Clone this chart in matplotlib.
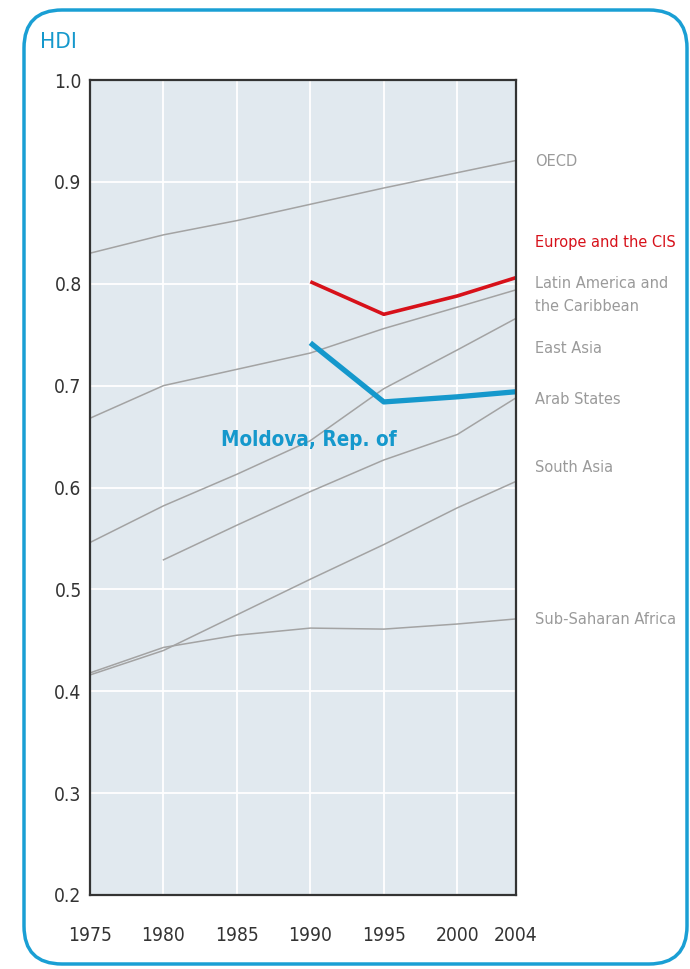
import matplotlib
matplotlib.use("Agg")
import matplotlib.pyplot as plt
from matplotlib.patches import FancyBboxPatch

# ---- data ----
years = [1975, 1980, 1985, 1990, 1995, 2000, 2004]

oecd = [0.830, 0.848, 0.862, 0.878, 0.894, 0.909, 0.921]
latam = [0.668, 0.700, 0.716, 0.732, 0.756, 0.777, 0.794]
east_asia = [0.546, 0.582, 0.613, 0.646, 0.697, 0.735, 0.766]
arab_years = [1980, 1985, 1990, 1995, 2000, 2004]
arab = [0.529, 0.563, 0.596, 0.627, 0.652, 0.688]
south_asia = [0.416, 0.440, 0.475, 0.510, 0.544, 0.580, 0.606]
ssa = [0.418, 0.443, 0.455, 0.462, 0.461, 0.466, 0.471]

cis_years = [1990, 1995, 2000, 2004]
europe_cis = [0.802, 0.770, 0.788, 0.806]
moldova = [0.742, 0.684, 0.689, 0.694]

region_names = ["OECD", "Europe and the CIS", "Latin America and\nthe Caribbean",
                "East Asia", "Arab States", "South Asia", "Sub-Saharan Africa"]
label_y = [0.920, 0.840, 0.789, 0.736, 0.686, 0.620, 0.470]

xticks = [1975, 1980, 1985, 1990, 1995, 2000, 2004]
yticks = [0.2, 0.3, 0.4, 0.5, 0.6, 0.7, 0.8, 0.9, 1.0]

# ---- styling ----
grey = "#a3a3a3"
red = "#d7111a"
blue = "#1598cc"
stretch = "condensed"

fig = plt.figure(figsize=(6.9, 9.69), dpi=100)
fig.patch.set_facecolor("white")

# rounded border
border = FancyBboxPatch((0.24, 0.05), 6.63, 9.54,
                        boxstyle="round,pad=0,rounding_size=0.38",
                        transform=fig.dpi_scale_trans, fill=False,
                        edgecolor="#1a9fd4", linewidth=2.5)
fig.patches.append(border)

ax = fig.add_axes([90 / 690, 74 / 969, 426 / 690, 815 / 969])
ax.set_facecolor("#e1e9ef")
ax.set_xlim(1975, 2004)
ax.set_ylim(0.2, 1.0)

ax.set_xticks(xticks)
ax.set_yticks(yticks)
ax.set_yticklabels([f"{v:.1f}" for v in yticks])
ax.tick_params(length=0, labelsize=15, colors="#333333")
ax.tick_params(axis="x", pad=22)
ax.tick_params(axis="y", pad=6)

ax.grid(True, color="white", linewidth=1.3)
ax.set_axisbelow(True)
for s in ax.spines.values():
    s.set_color("#333333")
    s.set_linewidth(1.6)

# grey regional lines
ax.plot(years, oecd, color=grey, lw=1.1)
ax.plot(years, latam, color=grey, lw=1.1)
ax.plot(years, east_asia, color=grey, lw=1.1)
ax.plot(arab_years, arab, color=grey, lw=1.1)
ax.plot(years, south_asia, color=grey, lw=1.1)
ax.plot(years, ssa, color=grey, lw=1.1)

# highlighted lines
ax.plot(cis_years, europe_cis, color=red, lw=2.6, solid_capstyle="butt")
ax.plot(cis_years, moldova, color=blue, lw=3.8, solid_capstyle="butt")

# right-hand labels
labels = []
for name, y in zip(region_names, label_y):
    c = red if name.startswith("Europe") else "#9a9a9a"
    t = ax.text(1.045, y, name, transform=ax.get_yaxis_transform(), color=c,
                fontsize=13, fontstretch=stretch, va="center", ha="left",
                linespacing=1.65, clip_on=False)
    labels.append(t)

moldova_lbl = ax.text(1989.9, 0.647, "Moldova, Rep. of", color=blue, fontsize=19,
                      fontstretch=stretch, fontweight="bold", va="center", ha="center")

hdi = fig.text(40 / 690, 1 - 42 / 969, "HDI", color=blue, fontsize=18,
               fontstretch=stretch, va="center", ha="left")

for lbl in ax.get_xticklabels() + ax.get_yticklabels():
    lbl.set_fontstretch(stretch)


# scale the font sizes so the widths come out like the reference
def fit(texts, target_px):
    r = fig.canvas.get_renderer()
    w = max(t.get_window_extent(r).width for t in texts)
    for t in texts:
        t.set_fontsize(t.get_fontsize() * target_px / w)


fig.canvas.draw()
fit([labels[1]], 141)
for t in labels:
    t.set_fontsize(labels[1].get_fontsize())
fit([moldova_lbl], 176)
fit([hdi], 37)
fit(ax.get_xticklabels(), 44)
ax.tick_params(labelsize=ax.get_xticklabels()[0].get_fontsize())

fig.savefig("out.png", dpi=100)
